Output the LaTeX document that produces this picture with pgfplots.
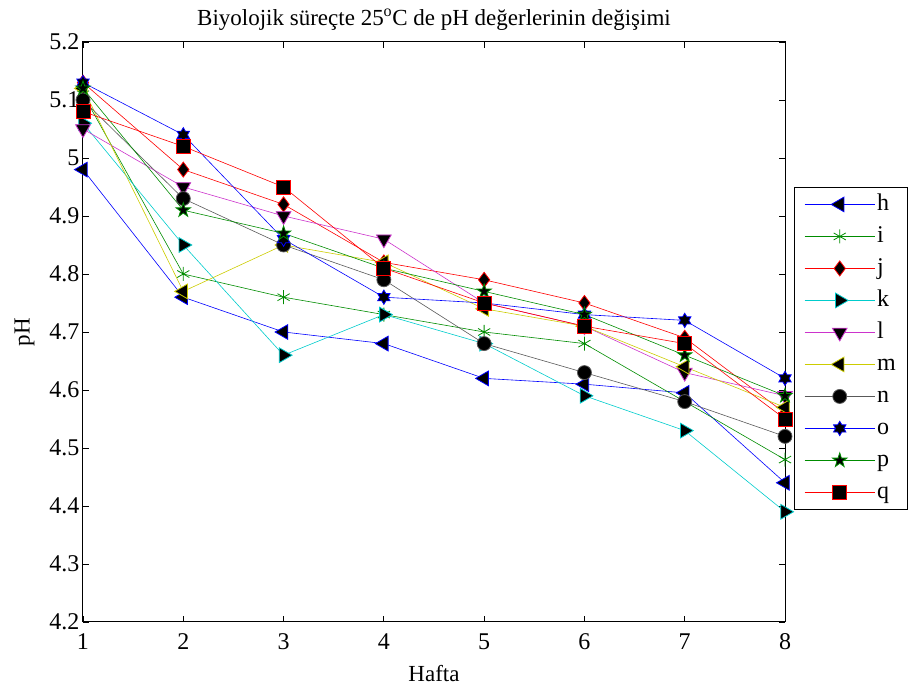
\documentclass[border=0pt]{standalone}
\usepackage{fontspec}
\setmainfont{Liberation Serif}
\usepackage{pgfplots}
\pgfplotsset{compat=1.18}
\definecolor{colg}{rgb}{0,0.55,0}
\definecolor{colc}{rgb}{0,0.8,0.8}
\definecolor{colm}{rgb}{0.8,0.2,0.8}
\definecolor{coly}{rgb}{0.8,0.8,0}
\definecolor{coln}{rgb}{0.35,0.35,0.35}
\pgfdeclareplotmark{pentagram}{%
  \pgfpathmoveto{\pgfpointpolar{90}{1.25\pgfplotmarksize}}%
  \pgfpathlineto{\pgfpointpolar{126}{0.48\pgfplotmarksize}}%
  \pgfpathlineto{\pgfpointpolar{162}{1.25\pgfplotmarksize}}%
  \pgfpathlineto{\pgfpointpolar{198}{0.48\pgfplotmarksize}}%
  \pgfpathlineto{\pgfpointpolar{234}{1.25\pgfplotmarksize}}%
  \pgfpathlineto{\pgfpointpolar{270}{0.48\pgfplotmarksize}}%
  \pgfpathlineto{\pgfpointpolar{306}{1.25\pgfplotmarksize}}%
  \pgfpathlineto{\pgfpointpolar{342}{0.48\pgfplotmarksize}}%
  \pgfpathlineto{\pgfpointpolar{18}{1.25\pgfplotmarksize}}%
  \pgfpathlineto{\pgfpointpolar{54}{0.48\pgfplotmarksize}}%
  \pgfpathclose\pgfusepathqfillstroke}
\pgfdeclareplotmark{hexagram}{%
  \pgfpathmoveto{\pgfpointpolar{90}{1.1\pgfplotmarksize}}%
  \pgfpathlineto{\pgfpointpolar{120}{0.64\pgfplotmarksize}}%
  \pgfpathlineto{\pgfpointpolar{150}{1.1\pgfplotmarksize}}%
  \pgfpathlineto{\pgfpointpolar{180}{0.64\pgfplotmarksize}}%
  \pgfpathlineto{\pgfpointpolar{210}{1.1\pgfplotmarksize}}%
  \pgfpathlineto{\pgfpointpolar{240}{0.64\pgfplotmarksize}}%
  \pgfpathlineto{\pgfpointpolar{270}{1.1\pgfplotmarksize}}%
  \pgfpathlineto{\pgfpointpolar{300}{0.64\pgfplotmarksize}}%
  \pgfpathlineto{\pgfpointpolar{330}{1.1\pgfplotmarksize}}%
  \pgfpathlineto{\pgfpointpolar{0}{0.64\pgfplotmarksize}}%
  \pgfpathlineto{\pgfpointpolar{30}{1.1\pgfplotmarksize}}%
  \pgfpathlineto{\pgfpointpolar{60}{0.64\pgfplotmarksize}}%
  \pgfpathclose\pgfusepathqfillstroke}
\begin{document}
\begin{tikzpicture}
\begin{axis}[
  name=ax,
  scale only axis,
  width=702pt, height=580pt,
  xmin=1, xmax=8, ymin=4.2, ymax=5.2,
  xtick={1,2,3,4,5,6,7,8},
  xticklabels={1,2,3,4,5,6,7,8},
  ytick={4.2,4.3,4.4,4.5,4.6,4.7,4.8,4.9,5,5.1,5.2},
  yticklabels={4.2,4.3,4.4,4.5,4.6,4.7,4.8,4.9,5,5.1,5.2},
  tick align=inside, major tick length=6pt,
  axis line style={line width=1pt},
  every tick/.style={black, line width=0.8pt},
  ticklabel style={font=\fontsize{24}{28}\selectfont},
  xticklabel style={yshift=-8pt},
  /pgf/number format/assume math mode=true,
  xlabel={Hafta}, ylabel={pH},
  label style={font=\fontsize{23}{27}\selectfont},
  xlabel style={yshift=-9pt},
  ylabel style={yshift=8pt},
  title={Biyolojik süreçte 25\textsuperscript{o}C de pH değerlerinin değişimi},
  title style={font=\fontsize{23}{27}\selectfont, yshift=2pt},
  every axis plot/.append style={line width=0.6pt},
  legend style={at={(1.0128,0.75)}, anchor=north west, draw=black, line width=0.9pt,
    font=\fontsize{24}{28}\selectfont, row sep=6pt, inner xsep=10pt, inner ysep=4pt,
    nodes={inner sep=2pt, text height=17pt, text depth=5pt}},
  legend image code/.code={\draw[mark repeat=2,mark phase=2,#1] plot coordinates {(0pt,0pt) (35pt,0pt) (70pt,0pt)};},
  legend cell align=left,
]
\addplot[blue, mark=triangle*, mark size=8.5pt, mark options={rotate=90, fill=black, draw=blue, line width=0.8pt}]
 coordinates {(1,4.98)(2,4.76)(3,4.70)(4,4.68)(5,4.62)(6,4.61)(7,4.595)(8,4.44)};
\addlegendentry{h}
\addplot[colg, mark=asterisk, mark size=7pt, mark options={draw=colg, line width=0.8pt}]
 coordinates {(1,5.11)(2,4.80)(3,4.76)(4,4.73)(5,4.70)(6,4.68)(7,4.58)(8,4.48)};
\addlegendentry{i}
\addplot[red, mark=diamond*, mark size=7.5pt, mark options={fill=black, draw=red, line width=0.8pt}]
 coordinates {(1,5.13)(2,4.98)(3,4.92)(4,4.82)(5,4.79)(6,4.75)(7,4.69)(8,4.56)};
\addlegendentry{j}
\addplot[colc, mark=triangle*, mark size=8.5pt, mark options={rotate=-90, fill=black, draw=colc, line width=0.8pt}]
 coordinates {(1,5.06)(2,4.85)(3,4.66)(4,4.73)(5,4.68)(6,4.59)(7,4.53)(8,4.39)};
\addlegendentry{k}
\addplot[colm, mark=triangle*, mark size=8.5pt, mark options={rotate=180, fill=black, draw=colm, line width=0.8pt}]
 coordinates {(1,5.05)(2,4.95)(3,4.90)(4,4.86)(5,4.75)(6,4.71)(7,4.63)(8,4.59)};
\addlegendentry{l}
\addplot[coly, mark=triangle*, mark size=8.5pt, mark options={rotate=90, fill=black, draw=coly, line width=0.8pt}]
 coordinates {(1,5.12)(2,4.77)(3,4.85)(4,4.82)(5,4.74)(6,4.71)(7,4.64)(8,4.57)};
\addlegendentry{m}
\addplot[coln, mark=*, mark size=7pt, mark options={fill=black, draw=coln, line width=0.8pt}]
 coordinates {(1,5.10)(2,4.93)(3,4.85)(4,4.79)(5,4.68)(6,4.63)(7,4.58)(8,4.52)};
\addlegendentry{n}
\addplot[blue, mark=hexagram, mark size=6.5pt, mark options={fill=black, draw=blue, line width=0.8pt}]
 coordinates {(1,5.13)(2,5.04)(3,4.86)(4,4.76)(5,4.75)(6,4.73)(7,4.72)(8,4.62)};
\addlegendentry{o}
\addplot[colg, mark=pentagram, mark size=6pt, mark options={fill=black, draw=colg, line width=0.8pt}]
 coordinates {(1,5.12)(2,4.91)(3,4.87)(4,4.81)(5,4.77)(6,4.73)(7,4.66)(8,4.59)};
\addlegendentry{p}
\addplot[red, mark=square*, mark size=7pt, mark options={fill=black, draw=red, line width=0.8pt}]
 coordinates {(1,5.08)(2,5.02)(3,4.95)(4,4.81)(5,4.75)(6,4.71)(7,4.68)(8,4.55)};
\addlegendentry{q}
\end{axis}
\path ([xshift=-83pt,yshift=-67pt]ax.south west) rectangle ([xshift=132pt,yshift=42pt]ax.north east);
\end{tikzpicture}
\end{document}
